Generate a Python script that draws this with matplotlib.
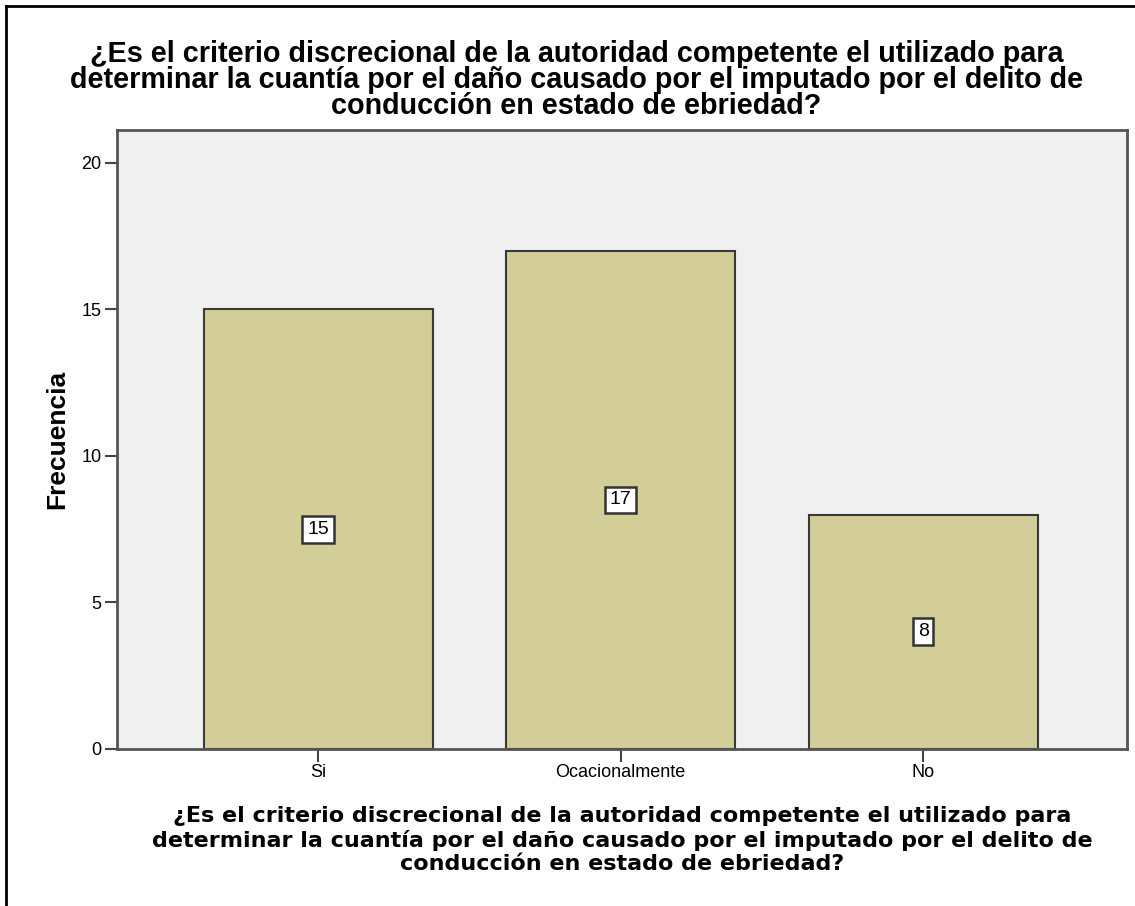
import matplotlib
matplotlib.use("Agg")
import matplotlib.pyplot as plt
from matplotlib.lines import Line2D

categories = ["Si", "Ocacionalmente", "No"]
frequencies = [15, 17, 8]
yticks = [0, 5, 10, 15, 20]
title_text = ("¿Es el criterio discrecional de la autoridad competente el utilizado para\n"
              "determinar la cuantía por el daño causado por el imputado por el delito de\n"
              "conducción en estado de ebriedad?")
ylabel_text = "Frecuencia"

plt.rcParams['font.family'] = ['Liberation Sans', 'DejaVu Sans']

fig = plt.figure(figsize=(11.35, 9.06), dpi=100)
ax = fig.add_axes([0.1031, 0.1733, 0.8899, 0.6832])
ax.set_facecolor('#F0F0F0')

x = list(range(len(categories)))
bars = ax.bar(x, frequencies, width=0.757, color='#D3CE97', edgecolor='#3A3A3A', linewidth=1.5, zorder=2)

for xi, v in zip(x, frequencies):
    ax.text(xi, v / 2, str(v), ha='center', va='center', fontsize=14, color='black', zorder=3,
            bbox=dict(boxstyle='square,pad=0.25', facecolor='white', edgecolor='#333333', linewidth=1.8))

ax.set_xlim(-0.665, 2.674)
ax.set_ylim(0, 21.12)
ax.set_xticks(x)
ax.set_xticklabels(categories, fontsize=13)
ax.set_yticks(yticks)
ax.set_yticklabels([str(t) for t in yticks], fontsize=13)
ax.tick_params(axis='both', direction='out', length=9, width=1.5, color='#444444', pad=2)

for s in ax.spines.values():
    s.set_color('#555555')
    s.set_linewidth(2)

ax.set_ylabel(ylabel_text, fontsize=19, fontweight='bold', labelpad=9)
ax.set_xlabel(title_text, fontsize=16, fontweight='bold', labelpad=18, linespacing=1.2,
              family=['DejaVu Sans'])

fig.text(0.508, 1 - 40/906, title_text, ha='center', va='top', fontsize=20.7, fontweight='bold', linespacing=0.92)

# outer frame (top and left edges)
fig.add_artist(Line2D([6/1135, 1.0], [1 - 6/906, 1 - 6/906], transform=fig.transFigure, color='black', linewidth=2))
fig.add_artist(Line2D([6/1135, 6/1135], [0.0, 1 - 6/906], transform=fig.transFigure, color='black', linewidth=2))

fig.savefig("out.png", dpi=100)
